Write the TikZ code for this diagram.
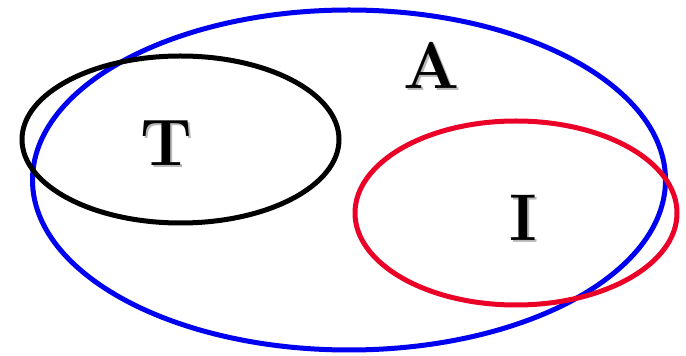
\documentclass[tikz,border=0pt]{standalone}
\usepackage{xcolor}
\definecolor{setblue}{RGB}{0,0,240}
\definecolor{setred}{RGB}{235,0,40}
\tikzset{
  setline/.style={line width=5pt},
  setlabel/.style={font=\fontsize{66}{66}\selectfont\bfseries},
  setshadow/.style={setlabel,text=black!28,xshift=2pt,yshift=-2pt},
}

\begin{document}
\begin{tikzpicture}[x=1pt,y=1pt]
  \useasboundingbox (0,0) rectangle (686,356);
  \draw[setline,setblue] (349,176) ellipse (316.5 and 170);
  \draw[setline,black] (180.5,216.5) ellipse (158.5 and 83.5);
  \draw[setline,setred] (516,143) ellipse (161 and 92);
  % letters with a grey shadow
  \node[setshadow] (shA) at (432,291) {A};
  \node[setlabel] (lblA) at (432,291) {A};
  \node[setshadow] (shT) at (166,213) {T};
  \node[setlabel] (lblT) at (166,213) {T};
  \node[setshadow] (shI) at (523,138) {I};
  \node[setlabel] (lblI) at (523,138) {I};
\end{tikzpicture}
\end{document}
